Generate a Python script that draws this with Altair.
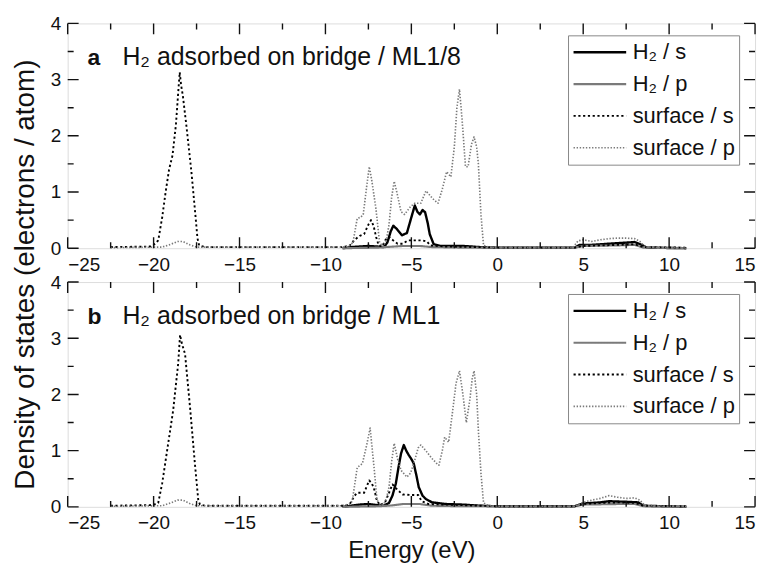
import altair as alt
import pandas as pd

# ---------------- data ----------------
series_names = ["H₂ / s", "H₂ / p", "surface / s", "surface / p"]
panel_letters = ["a", "b"]
panel_titles = ["H₂ adsorbed on bridge / ML1/8", "H₂ adsorbed on bridge / ML1"]

x_major = [-25, -20, -15, -10, -5, 0, 5, 10, 15]
x_minor = [-22.5, -17.5, -12.5, -7.5, -2.5, 2.5, 7.5, 12.5]
y_major = [0, 1, 2, 3, 4]
y_minor = [0.5, 1.5, 2.5, 3.5]

# panel a : ML1/8
a_h2_s = [(-9.0, 0.0), (-8.5, 0.02), (-8.0, 0.03), (-7.5, 0.04), (-7.0, 0.03), (-6.6, 0.02),
          (-6.4, 0.1), (-6.2, 0.3), (-6.05, 0.4), (-5.84, 0.34), (-5.55, 0.23), (-5.26, 0.27),
          (-5.0, 0.55), (-4.8, 0.76), (-4.65, 0.65), (-4.5, 0.6), (-4.35, 0.68), (-4.2, 0.64),
          (-4.05, 0.45), (-3.93, 0.25), (-3.7, 0.07), (-3.3, 0.04), (-2.0, 0.04), (-1.0, 0.02),
          (0.0, 0.01), (4.5, 0.01), (4.8, 0.06), (5.5, 0.06), (6.5, 0.08), (7.5, 0.1),
          (8.0, 0.11), (8.4, 0.06), (8.7, 0.01), (11.0, 0.0)]
a_h2_p = [(-9.0, 0.0), (-7.0, 0.01), (-6.5, 0.02), (-5.5, 0.04), (-4.5, 0.04), (-3.8, 0.02),
          (-2.0, 0.01), (4.5, 0.01), (5.0, 0.04), (7.0, 0.05), (8.0, 0.06), (8.5, 0.01), (11.0, 0.0)]
a_surf_s = [(-22.5, 0.02), (-20.2, 0.03), (-19.9, 0.08), (-19.73, 0.14), (-19.5, 0.55), (-19.3, 1.0),
            (-19.1, 1.4), (-18.9, 1.65), (-18.7, 2.2), (-18.55, 2.85), (-18.48, 3.13), (-18.4, 2.9),
            (-18.3, 2.72), (-18.1, 2.2), (-17.8, 1.36), (-17.55, 0.53), (-17.45, 0.18), (-17.35, 0.05),
            (-17.0, 0.02), (-9.0, 0.02), (-8.6, 0.04), (-8.3, 0.15), (-8.0, 0.22), (-7.75, 0.25),
            (-7.5, 0.42), (-7.35, 0.5), (-7.2, 0.4), (-7.05, 0.2), (-6.9, 0.05), (-6.7, 0.03),
            (-6.5, 0.15), (-6.3, 0.2), (-6.1, 0.15), (-5.8, 0.08), (-5.5, 0.08), (-5.2, 0.14),
            (-4.8, 0.14), (-4.4, 0.14), (-4.1, 0.12), (-3.9, 0.05), (-3.0, 0.03), (-1.0, 0.02),
            (0.0, 0.01), (4.5, 0.01), (5.0, 0.04), (6.0, 0.05), (7.0, 0.06), (8.0, 0.07),
            (8.5, 0.02), (11.0, 0.01)]
a_surf_p = [(-22.5, 0.01), (-19.5, 0.02), (-19.0, 0.07), (-18.6, 0.12), (-18.3, 0.12), (-17.9, 0.06),
            (-17.5, 0.02), (-9.0, 0.02), (-8.6, 0.05), (-8.4, 0.1), (-8.15, 0.53), (-7.95, 0.55),
            (-7.8, 0.6), (-7.6, 1.1), (-7.45, 1.45), (-7.3, 1.2), (-7.06, 0.7), (-6.85, 0.1),
            (-6.65, 0.03), (-6.45, 0.15), (-6.3, 0.42), (-6.15, 0.9), (-6.0, 1.19), (-5.85, 1.0),
            (-5.6, 0.65), (-5.4, 0.6), (-5.2, 0.68), (-5.05, 0.74), (-4.8, 0.8), (-4.45, 0.8),
            (-4.15, 1.02), (-3.95, 0.95), (-3.75, 0.88), (-3.45, 0.8), (-3.2, 1.05), (-2.95, 1.36),
            (-2.7, 1.27), (-2.5, 1.8), (-2.35, 2.5), (-2.2, 2.83), (-2.05, 2.3), (-1.85, 1.45),
            (-1.7, 1.45), (-1.5, 1.85), (-1.35, 1.98), (-1.2, 1.8), (-1.1, 1.5), (-0.95, 0.6),
            (-0.8, 0.05), (-0.5, 0.02), (0.0, 0.01), (4.4, 0.01), (4.7, 0.13), (5.0, 0.15),
            (5.5, 0.12), (6.0, 0.15), (6.5, 0.17), (7.0, 0.18), (7.5, 0.18), (8.0, 0.17),
            (8.3, 0.12), (8.6, 0.02), (11.0, 0.01)]

# panel b : ML1
b_h2_s = [(-9.0, 0.0), (-8.5, 0.02), (-8.0, 0.04), (-7.5, 0.05), (-7.0, 0.03), (-6.6, 0.02),
          (-6.3, 0.07), (-6.1, 0.2), (-5.9, 0.42), (-5.75, 0.7), (-5.6, 0.95), (-5.44, 1.1),
          (-5.3, 1.0), (-5.15, 0.92), (-5.0, 0.85), (-4.86, 0.77), (-4.7, 0.55), (-4.57, 0.35),
          (-4.35, 0.2), (-4.16, 0.14), (-3.8, 0.08), (-3.0, 0.05), (-2.0, 0.04), (-1.0, 0.02),
          (0.0, 0.01), (4.5, 0.01), (5.0, 0.06), (6.0, 0.08), (6.5, 0.1), (7.5, 0.09),
          (8.2, 0.08), (8.5, 0.02), (11.0, 0.0)]
b_h2_p = [(-9.0, 0.0), (-7.0, 0.01), (-6.3, 0.02), (-5.5, 0.05), (-4.5, 0.05), (-3.8, 0.02),
          (-2.0, 0.01), (4.5, 0.01), (5.0, 0.04), (7.0, 0.05), (8.0, 0.05), (8.5, 0.01), (11.0, 0.0)]
b_surf_s = [(-22.5, 0.02), (-20.2, 0.03), (-19.85, 0.05), (-19.73, 0.07), (-19.5, 0.42), (-19.15, 1.13),
            (-18.86, 1.72), (-18.57, 2.55), (-18.46, 3.06), (-18.35, 2.9), (-18.17, 2.72), (-17.88, 1.77),
            (-17.6, 0.78), (-17.4, 0.12), (-17.3, 0.04), (-17.0, 0.02), (-9.0, 0.02), (-8.6, 0.04),
            (-8.3, 0.2), (-8.15, 0.25), (-7.75, 0.25), (-7.55, 0.4), (-7.46, 0.47), (-7.3, 0.42),
            (-7.15, 0.3), (-7.0, 0.1), (-6.8, 0.03), (-6.5, 0.1), (-6.3, 0.25), (-6.1, 0.4),
            (-5.8, 0.3), (-5.5, 0.22), (-5.0, 0.21), (-4.6, 0.21), (-4.4, 0.1), (-4.0, 0.05),
            (-3.0, 0.04), (-1.0, 0.02), (0.0, 0.01), (4.5, 0.01), (5.0, 0.05), (6.0, 0.07),
            (7.0, 0.08), (8.0, 0.07), (8.5, 0.02), (11.0, 0.01)]
b_surf_p = [(-22.5, 0.01), (-19.5, 0.02), (-19.0, 0.07), (-18.6, 0.12), (-18.3, 0.12), (-17.9, 0.06),
            (-17.5, 0.02), (-9.0, 0.02), (-8.6, 0.05), (-8.44, 0.1), (-8.15, 0.7), (-7.85, 0.77),
            (-7.6, 1.1), (-7.4, 1.4), (-7.17, 0.7), (-7.0, 0.12), (-6.8, 0.04), (-6.6, 0.05),
            (-6.45, 0.15), (-6.3, 0.35), (-6.15, 0.8), (-6.0, 1.13), (-5.8, 0.85), (-5.6, 0.65),
            (-5.26, 0.53), (-5.05, 0.6), (-4.86, 0.77), (-4.6, 1.05), (-4.45, 1.1), (-4.16, 1.0),
            (-3.8, 0.86), (-3.55, 0.78), (-3.4, 0.74), (-3.2, 1.0), (-3.06, 1.24), (-2.83, 1.15),
            (-2.6, 1.7), (-2.4, 2.2), (-2.2, 2.42), (-2.0, 2.0), (-1.8, 1.5), (-1.6, 1.9),
            (-1.45, 2.3), (-1.35, 2.42), (-1.2, 2.0), (-1.1, 1.36), (-0.95, 0.6), (-0.8, 0.07),
            (-0.5, 0.02), (0.0, 0.01), (4.5, 0.01), (5.0, 0.08), (5.5, 0.12), (6.0, 0.15),
            (6.5, 0.2), (7.0, 0.17), (7.5, 0.15), (8.0, 0.16), (8.3, 0.12), (8.6, 0.02), (11.0, 0.01)]

panels_data = [
    [a_h2_s, a_h2_p, a_surf_s, a_surf_p],
    [b_h2_s, b_h2_p, b_surf_s, b_surf_p],
]

# ---------------- styling ----------------
W, H = 691, 226
XMIN, XMAX, YMIN, YMAX = -25, 15, 0, 4
FONT = "Liberation Sans"
TXT = "#111111"
TICK = "tick"
all_series = series_names + [TICK]
colors = ["#000000", "#7a7a7a", "#000000", "#7a7a7a", "#111111"]
dashes = [[1, 0], [1, 0], [2.2, 2.6], [1.4, 1.7], [1, 0]]
widths = [2.4, 1.4, 3.2, 1.8, 1.7]
MAJ, MIN = 11, 6          # tick lengths in pixels
px_x = (XMAX - XMIN) / W  # data units per pixel
px_y = (YMAX - YMIN) / H

xscale = alt.Scale(domain=[XMIN, XMAX], nice=False, zero=False)
yscale = alt.Scale(domain=[YMIN, YMAX], nice=False, zero=False)


def tick_rows():
    rows, k = [], 0
    for vals, ln in ((x_major, MAJ), (x_minor, MIN)):
        for v in vals:
            for base, sgn in ((YMIN, 1), (YMAX, -1)):
                rows.append({"E": v, "D": base, "series": TICK, "seg": f"t{k}", "o": 0})
                rows.append({"E": v, "D": base + sgn * ln * px_y, "series": TICK, "seg": f"t{k}", "o": 1})
                k += 1
    for vals, ln in ((y_major, MAJ), (y_minor, MIN)):
        for v in vals:
            for base, sgn in ((XMIN, 1), (XMAX, -1)):
                rows.append({"E": base, "D": v, "series": TICK, "seg": f"t{k}", "o": 0})
                rows.append({"E": base + sgn * ln * px_x, "D": v, "series": TICK, "seg": f"t{k}", "o": 1})
                k += 1
    return rows


def make_panel(i):
    rows = []
    for name, pts in zip(series_names, panels_data[i]):
        for j, (e, d) in enumerate(pts):
            rows.append({"E": e, "D": d, "series": name, "seg": name, "o": j})
    rows += tick_rows()
    df = pd.DataFrame(rows)

    legend = alt.Legend(orient="none", legendX=503, legendY=12, title=None,
                        values=series_names,
                        symbolType="stroke", symbolSize=2800, clipHeight=26,
                        rowPadding=6, labelFontSize=22, labelFont=FONT,
                        labelOffset=5, padding=4, strokeColor="#888888",
                        fillColor="white", labelColor=TXT)

    common = dict(ticks=False, domain=False, grid=False, labelFontSize=19, labelFont=FONT,
                  labelPadding=7, labelColor=TXT)
    if i == 0:
        yax = alt.Axis(orient="left", values=y_major, **common,
                       title="Density of states (electrons / atom)", titleFontSize=28,
                       titleFont=FONT, titleFontWeight="normal", titleX=-42, titleY=252,
                       titleBaseline="middle", titleAngle=-90, titleColor=TXT)
        xax = alt.Axis(orient="bottom", values=x_major, **common, title=None)
    else:
        yax = alt.Axis(orient="left", values=y_major, **common, title=None)
        xax = alt.Axis(orient="bottom", values=x_major, **common,
                       title="Energy (eV)", titleFontSize=24, titleFont=FONT,
                       titleFontWeight="normal", titlePadding=6, titleColor=TXT)

    lines = alt.Chart(df).mark_line(strokeJoin="round").encode(
        x=alt.X("E:Q", scale=xscale, axis=xax),
        y=alt.Y("D:Q", scale=yscale, axis=yax),
        detail="seg:N",
        color=alt.Color("series:N", scale=alt.Scale(domain=all_series, range=colors), legend=legend),
        strokeDash=alt.StrokeDash("series:N", scale=alt.Scale(domain=all_series, range=dashes), legend=legend),
        strokeWidth=alt.StrokeWidth("series:N", scale=alt.Scale(domain=all_series, range=widths), legend=legend),
        order=alt.Order("o:Q"),
    )

    title_df = pd.DataFrame({"letter": [panel_letters[i]], "title": [panel_titles[i]]})
    letter = alt.Chart(title_df).mark_text(align="left", baseline="alphabetic", fontSize=23,
                                           fontWeight="bold", font=FONT, color=TXT).encode(
        x=alt.value(20), y=alt.value(42), text="letter:N")
    title = alt.Chart(title_df).mark_text(align="left", baseline="alphabetic", fontSize=25,
                                          font=FONT, color=TXT).encode(
        x=alt.value(55), y=alt.value(42), text="title:N")

    return alt.layer(lines, letter, title).properties(width=W, height=H)


chart = alt.vconcat(make_panel(0), make_panel(1), spacing=34, bounds="flush").resolve_legend(
    color="independent", strokeDash="independent", strokeWidth="independent"
).resolve_scale(color="independent", strokeDash="independent", strokeWidth="independent").properties(
    padding={"left": 3, "top": 4, "right": 5, "bottom": 5}
).configure_view(stroke="#222222", strokeWidth=1.6).configure(background="white")

chart.save("out.html", embed_options={"renderer": "svg", "actions": False})
